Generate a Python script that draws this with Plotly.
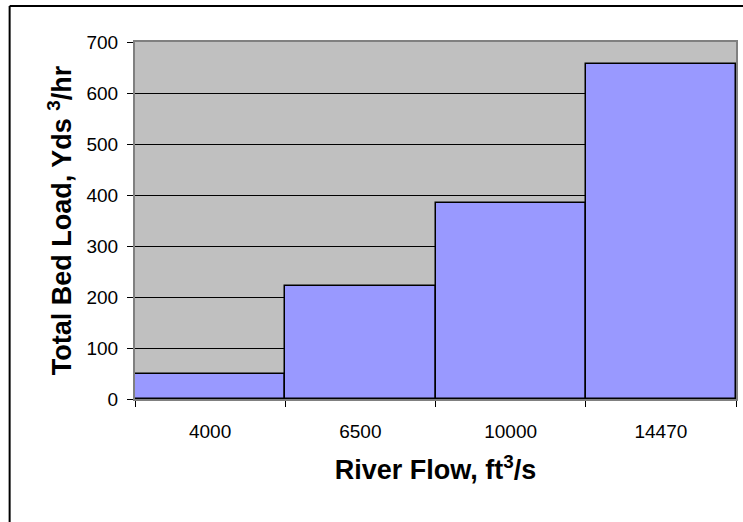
import plotly.graph_objects as go

categories = ["4000", "6500", "10000", "14470"]
bed_load = [50, 222, 384, 656]
y_tickvals = [0, 100, 200, 300, 400, 500, 600, 700]

fig = go.Figure()
fig.add_trace(go.Bar(
    x=categories, y=bed_load,
    marker=dict(color="#9999FF", line=dict(color="black", width=1.5)),
    hoverinfo="skip",
))

font_family = "Liberation Sans, Arial, sans-serif"

fig.update_layout(
    width=743, height=522,
    margin=dict(l=135, r=7, t=41.5, b=122.5, autoexpand=False),
    paper_bgcolor="white",
    plot_bgcolor="#C0C0C0",
    bargap=0,
    showlegend=False,
    font=dict(family=font_family, color="black"),
    xaxis=dict(
        type="category",
        tickson="boundaries",
        ticks="outside", ticklen=6, tickcolor="black", tickwidth=1,
        tickfont=dict(size=19),
        ticklabelstandoff=14,
        showline=True, linecolor="#808080", linewidth=1.5, mirror=True,
        showgrid=False,
        automargin=False,
        title=dict(text="<b>River Flow, ft<sup>3</sup>/s</b>", font=dict(size=27), standoff=20),
    ),
    yaxis=dict(
        range=[0, 700], tickvals=y_tickvals,
        ticks="outside", ticklen=6, tickcolor="black", tickwidth=1,
        tickfont=dict(size=19),
        ticklabelstandoff=5,
        showline=True, linecolor="#808080", linewidth=2, mirror=True,
        showgrid=True, gridcolor="black", gridwidth=1,
        zeroline=False,
        automargin=False,
        title=dict(text="<b>Total Bed Load, Yds <sup>3</sup>/hr</b>", font=dict(size=27), standoff=7),
    ),
    shapes=[
        dict(type="line", xref="paper", yref="paper",
             x0=-0.2086, x1=-0.2086, y0=1.1006, y1=-0.40,
             line=dict(color="black", width=2)),
        dict(type="line", xref="paper", yref="paper",
             x0=-0.2086, x1=1.05, y0=1.1006, y1=1.1006,
             line=dict(color="black", width=2)),
    ],
)

fig.write_html("out.html")
